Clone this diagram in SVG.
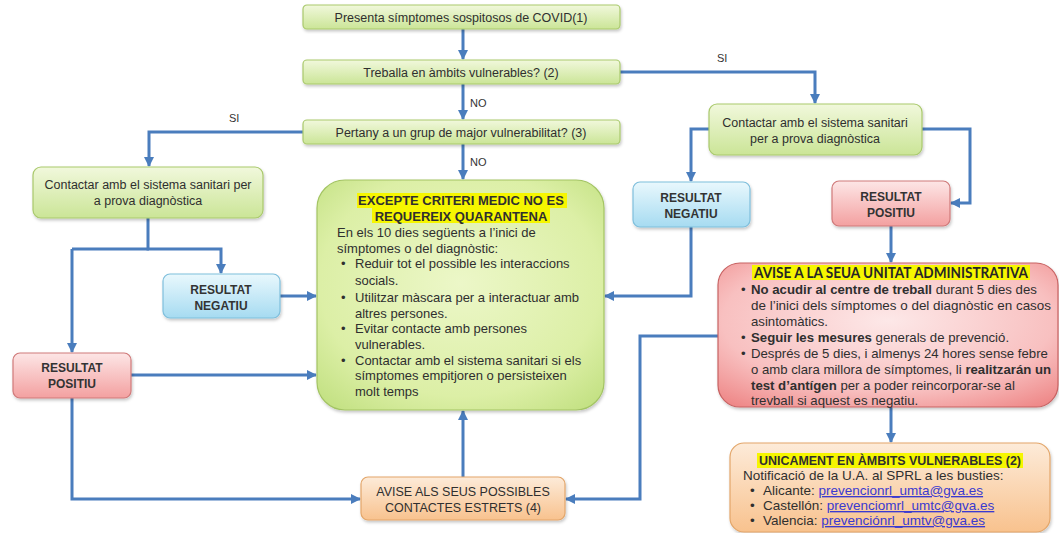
<svg xmlns="http://www.w3.org/2000/svg" width="1059" height="533" viewBox="0 0 1059 533">
<defs>
<linearGradient id="gGreen" x1="0" y1="0" x2="0" y2="1"><stop offset="0" stop-color="#f1f8dc"/><stop offset="1" stop-color="#cbe597"/></linearGradient>
<radialGradient id="gBig" cx="0.5" cy="0.45" r="0.7"><stop offset="0" stop-color="#ecf7c8"/><stop offset="0.7" stop-color="#dcefa6"/><stop offset="1" stop-color="#c3e183"/></radialGradient>
<linearGradient id="gBlue" x1="0" y1="0" x2="0" y2="1"><stop offset="0" stop-color="#e9f8fd"/><stop offset="1" stop-color="#a6dbf1"/></linearGradient>
<linearGradient id="gRed" x1="0" y1="0" x2="0" y2="1"><stop offset="0" stop-color="#fde6e6"/><stop offset="1" stop-color="#f3a0a0"/></linearGradient>
<radialGradient id="gRedBig" cx="0.5" cy="0.4" r="0.75"><stop offset="0" stop-color="#fde8e8"/><stop offset="0.65" stop-color="#f8c0c0"/><stop offset="1" stop-color="#ee8686"/></radialGradient>
<linearGradient id="gOrange" x1="0" y1="0" x2="0" y2="1"><stop offset="0" stop-color="#fdebd9"/><stop offset="1" stop-color="#f8c28e"/></linearGradient>
<filter id="sh" x="-10%" y="-10%" width="120%" height="130%"><feDropShadow dx="1" dy="2" stdDeviation="1.5" flood-color="#000" flood-opacity="0.22"/></filter>
<marker id="ah" viewBox="0 0 10 10" refX="9" refY="5" markerWidth="10" markerHeight="10" markerUnits="userSpaceOnUse" orient="auto"><path d="M0,0 L10,5 L0,10 z" fill="#4a7dbd"/></marker>
</defs>
<style>
.t{font-family:"Liberation Sans",Arial,sans-serif;fill:#2f2f2f}
.s{font-size:12.5px}
.m{font-size:13px}
.b{font-weight:bold}
.r{font-size:12px;font-weight:bold;fill:#333}
.l{font-size:13.2px}
.u{font-size:13.5px}
.lk{fill:#3a3ad0;text-decoration:underline}
.hl{fill:#f6f600}
.green{fill:url(#gGreen);stroke:#a9c96c;stroke-width:1.2;filter:url(#sh)}
.blue{fill:url(#gBlue);stroke:#7fbfdc;stroke-width:1.2;filter:url(#sh)}
.red{fill:url(#gRed);stroke:#d07a7a;stroke-width:1.2;filter:url(#sh)}
.orange{fill:url(#gOrange);stroke:#e3a66a;stroke-width:1.2;filter:url(#sh)}
.c path{fill:none;stroke:#4a7dbd;stroke-width:3}
.lab{font-family:"Liberation Sans",Arial,sans-serif;font-size:11px;fill:#333}
</style>
<rect width="1059" height="533" fill="#fff"/>

<g class="c" id="connectors">
<path d="M463,29 V59" marker-end="url(#ah)"/>
<path d="M463,84 V119" marker-end="url(#ah)"/>
<path d="M463,144 V179" marker-end="url(#ah)"/>
<path d="M620,72 H815 V103" marker-end="url(#ah)"/>
<path d="M303,132 H149 V166" marker-end="url(#ah)"/>
<path d="M709,129 H691 V181" marker-end="url(#ah)"/>
<path d="M922,129 H970 V203 H951" marker-end="url(#ah)"/>
<path d="M891,226 V262" marker-end="url(#ah)"/>
<path d="M691,227 V296 H605" marker-end="url(#ah)"/>
<path d="M148,218 V249 H221 V273" marker-end="url(#ah)"/>
<path d="M72,249 H149"/>
<path d="M72,249 V352" marker-end="url(#ah)"/>
<path d="M280,296 H316" marker-end="url(#ah)"/>
<path d="M131,375 H316" marker-end="url(#ah)"/>
<path d="M72,398 V499 H360" marker-end="url(#ah)"/>
<path d="M718,336 H640 V499 H566" marker-end="url(#ah)"/>
<path d="M463,477 V411" marker-end="url(#ah)"/>
<path d="M891,407 V442" marker-end="url(#ah)"/>
<text class="lab" x="470" y="107">NO</text>
<text class="lab" x="470" y="166">NO</text>
<text class="lab" x="717" y="62">SI</text>
<text class="lab" x="229" y="122">SI</text>
</g>

<g id="n1"><rect class="green" x="303" y="5" width="317" height="24" rx="4"/><text class="t s" x="461" y="22" text-anchor="middle">Presenta símptomes sospitosos de COVID(1)</text></g>
<g id="n2"><rect class="green" x="303" y="60" width="317" height="24" rx="4"/><text class="t s" x="461" y="77" text-anchor="middle">Treballa en àmbits vulnerables? (2)</text></g>
<g id="n3"><rect class="green" x="303" y="120" width="317" height="24" rx="4"/><text class="t s" x="461" y="137" text-anchor="middle">Pertany a un grup de major vulnerabilitat? (3)</text></g>

<g id="n4"><rect class="green" x="709" y="104" width="213" height="51" rx="8"/><text class="t s" x="815" y="127" text-anchor="middle">Contactar amb el sistema sanitari</text><text class="t s" x="815" y="143" text-anchor="middle">per a prova diagnòstica</text></g>
<g id="n5"><rect class="blue" x="633" y="182" width="117" height="45" rx="7"/><text class="t r" x="691" y="202" text-anchor="middle">RESULTAT</text><text class="t r" x="691" y="218" text-anchor="middle">NEGATIU</text></g>
<g id="n6"><rect class="red" x="832" y="181" width="118" height="45" rx="7"/><text class="t r" x="891" y="201" text-anchor="middle">RESULTAT</text><text class="t r" x="891" y="217" text-anchor="middle">POSITIU</text></g>

<g id="n7"><rect class="green" x="33" y="167" width="230" height="51" rx="8"/><text class="t s" x="148" y="189" text-anchor="middle">Contactar amb el sistema sanitari per</text><text class="t s" x="148" y="205" text-anchor="middle">a prova diagnòstica</text></g>
<g id="n8"><rect class="blue" x="163" y="274" width="117" height="44" rx="7"/><text class="t r" x="221" y="294" text-anchor="middle">RESULTAT</text><text class="t r" x="221" y="310" text-anchor="middle">NEGATIU</text></g>
<g id="n9"><rect class="red" x="13" y="353" width="118" height="45" rx="7"/><text class="t r" x="72" y="372" text-anchor="middle">RESULTAT</text><text class="t r" x="72" y="388" text-anchor="middle">POSITIU</text></g>

<g id="n10">
<rect x="317" y="180" width="287" height="230" rx="28" fill="url(#gBig)" stroke="#a3c463" stroke-width="1.2" filter="url(#sh)"/>
<rect class="hl" x="357" y="193" width="210" height="15"/>
<rect class="hl" x="372" y="208" width="178" height="15"/>
<text class="t m b" x="461" y="205" text-anchor="middle">EXCEPTE CRITERI MEDIC NO ES</text>
<text class="t m b" x="461" y="221" text-anchor="middle">REQUEREIX QUARANTENA</text>
<text class="t m" x="337" y="237">En els 10 dies següents a l’inici de</text>
<text class="t m" x="337" y="253">símptomes o del diagnòstic:</text>
<text class="t m" x="341" y="268">•</text><text class="t m" x="355" y="268">Reduir tot el possible les interaccions</text>
<text class="t m" x="355" y="285">socials.</text>
<text class="t m" x="341" y="302">•</text><text class="t m" x="355" y="302">Utilitzar màscara per a interactuar amb</text>
<text class="t m" x="355" y="318">altres persones.</text>
<text class="t m" x="341" y="333">•</text><text class="t m" x="355" y="333">Evitar contacte amb persones</text>
<text class="t m" x="355" y="349">vulnerables.</text>
<text class="t m" x="341" y="365">•</text><text class="t m" x="355" y="365">Contactar amb el sistema sanitari si els</text>
<text class="t m" x="355" y="380">símptomes empitjoren o persisteixen</text>
<text class="t m" x="355" y="396">molt temps</text>
</g>

<g id="n11"><rect class="orange" x="361" y="477" width="204" height="43" rx="7"/><text class="t s" x="463" y="496" text-anchor="middle">AVISE ALS SEUS POSSIBLES</text><text class="t s" x="463" y="512" text-anchor="middle">CONTACTES ESTRETS (4)</text></g>

<g id="n12">
<rect x="718" y="263" width="340" height="144" rx="22" fill="url(#gRedBig)" stroke="#c86262" stroke-width="1.2" filter="url(#sh)"/>
<rect class="hl" x="752" y="265" width="278" height="15"/>
<text x="891" y="278" text-anchor="middle" font-family="Lato,'Liberation Sans',sans-serif" font-weight="bold" font-size="14.5" fill="#262626" textLength="274" lengthAdjust="spacingAndGlyphs">AVISE A LA SEUA UNITAT ADMINISTRATIVA</text>
<text class="t l" x="741" y="294">•</text><text class="t l" x="751" y="294"><tspan font-weight="bold">No acudir al centre de treball</tspan> durant 5 dies des</text>
<text class="t l" x="751" y="310" textLength="300" lengthAdjust="spacingAndGlyphs">de l’inici dels símptomes o del diagnòstic en casos</text>
<text class="t l" x="751" y="326">asintomàtics.</text>
<text class="t l" x="741" y="342">•</text><text class="t l" x="751" y="342"><tspan font-weight="bold">Seguir les mesures</tspan> generals de prevenció.</text>
<text class="t l" x="741" y="358">•</text><text class="t l" x="751" y="358">Després de 5 dies, i almenys 24 hores sense febre</text>
<text class="t l" x="751" y="374" textLength="300" lengthAdjust="spacingAndGlyphs">o amb clara millora de símptomes, li <tspan font-weight="bold">realitzarán un</tspan></text>
<text class="t l" x="751" y="390"><tspan font-weight="bold">test d’antígen</tspan> per a poder reincorporar-se al</text>
<text class="t l" x="751" y="405">trevball si aquest es negatiu.</text>
</g>

<g id="n13">
<rect class="orange" x="730" y="443" width="320" height="89" rx="14"/>
<rect class="hl" x="757" y="453" width="266" height="15"/>
<text class="t b" x="890" y="465" text-anchor="middle" font-size="13.5" textLength="262" lengthAdjust="spacingAndGlyphs">UNICAMENT EN ÀMBITS VULNERABLES (2)</text>
<text class="t u" x="743" y="480">Notificació de la U.A. al SPRL a les busties:</text>
<text class="t u" x="750" y="495">•</text><text class="t u" x="763" y="495">Alicante: <tspan class="lk">prevencionrl_umta@gva.es</tspan></text>
<text class="t u" x="750" y="510">•</text><text class="t u" x="763" y="510">Castellón: <tspan class="lk">prevenciomrl_umtc@gva.es</tspan></text>
<text class="t u" x="750" y="525">•</text><text class="t u" x="763" y="525">Valencia: <tspan class="lk">prevenciónrl_umtv@gva.es</tspan></text>
</g>
</svg>
